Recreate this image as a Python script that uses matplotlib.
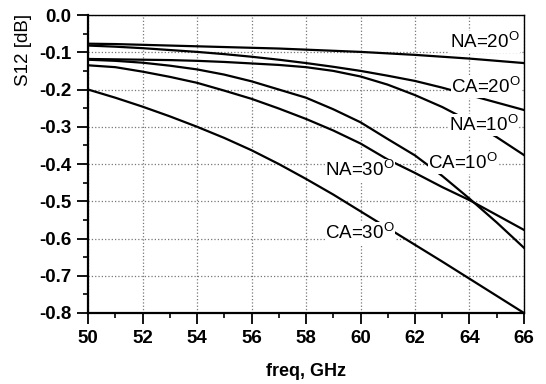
import matplotlib
matplotlib.use("Agg")
import matplotlib.pyplot as plt
from matplotlib.ticker import MultipleLocator, FormatStrFormatter

# Datos (freq en GHz, S12 en dB)
freq = [50, 51, 52, 53, 54, 55, 56, 57, 58, 59, 60, 61, 62, 63, 64, 65, 66]

na_20 = [-0.077, -0.078, -0.080, -0.082, -0.084, -0.086, -0.088, -0.090, -0.093,
         -0.096, -0.099, -0.103, -0.107, -0.112, -0.117, -0.123, -0.129]
ca_20 = [-0.082, -0.085, -0.089, -0.094, -0.099, -0.105, -0.112, -0.120, -0.129,
         -0.139, -0.150, -0.163, -0.177, -0.195, -0.215, -0.235, -0.255]
na_10 = [-0.118, -0.119, -0.120, -0.121, -0.123, -0.126, -0.130, -0.134, -0.140,
         -0.150, -0.165, -0.187, -0.215, -0.247, -0.285, -0.328, -0.376]
ca_10 = [-0.120, -0.123, -0.128, -0.136, -0.146, -0.160, -0.178, -0.200, -0.222,
         -0.253, -0.288, -0.333, -0.377, -0.432, -0.493, -0.557, -0.625]
na_30 = [-0.135, -0.140, -0.152, -0.166, -0.182, -0.203, -0.225, -0.251, -0.279,
         -0.310, -0.345, -0.388, -0.424, -0.462, -0.497, -0.537, -0.577]
ca_30 = [-0.200, -0.222, -0.246, -0.272, -0.300, -0.330, -0.363, -0.400, -0.440,
         -0.482, -0.527, -0.572, -0.617, -0.662, -0.708, -0.754, -0.800]

# Etiquetas de cada curva: (texto, x, y)
etiquetas = [
    ("NA=20", 64.55, -0.072),
    ("CA=20", 64.6, -0.193),
    ("NA=10", 64.53, -0.295),
    ("CA=10", 63.76, -0.397),
    ("NA=30", 59.98, -0.416),
    ("CA=30", 59.98, -0.585),
]


def generar_grafico():
    plt.rcParams['font.family'] = ['Liberation Sans', 'DejaVu Sans']
    plt.rcParams['mathtext.fontset'] = 'custom'
    plt.rcParams['mathtext.rm'] = 'Liberation Sans'
    plt.rcParams['axes.unicode_minus'] = False

    fig = plt.figure(figsize=(5.46, 3.84), dpi=100)
    ax = fig.add_axes([0.1612, 0.1849, 0.7985, 0.776])

    for serie in [na_20, ca_20, na_10, ca_10, na_30, ca_30]:
        ax.plot(freq, serie, color='black', lw=1.6, zorder=2)

    for texto, x, y in etiquetas:
        ax.text(x, y, texto + r'$^{\mathrm{O}}$', fontsize=13.5, ha='center', va='center',
                zorder=3, bbox=dict(facecolor='white', edgecolor='none', pad=0.3))

    ax.set_xlim(50, 66)
    ax.set_ylim(-0.8, 0.0)
    ax.xaxis.set_major_locator(MultipleLocator(2))
    ax.xaxis.set_minor_locator(MultipleLocator(1))
    ax.yaxis.set_major_locator(MultipleLocator(0.1))
    ax.yaxis.set_minor_locator(MultipleLocator(0.05))
    ax.yaxis.set_major_formatter(FormatStrFormatter('%.1f'))

    ax.tick_params(which='major', direction='out', length=8, width=1.3, labelsize=13.5, pad=4)
    ax.tick_params(which='minor', direction='out', length=3.5, width=1.2)
    for lab in ax.get_xticklabels() + ax.get_yticklabels():
        lab.set_fontweight('bold')

    ax.grid(True, which='major', color='#777777', ls=':', lw=0.9, zorder=0)

    ax.spines['left'].set_linewidth(1.6)
    ax.spines['bottom'].set_linewidth(1.6)
    ax.spines['top'].set_linewidth(1.0)
    ax.spines['right'].set_linewidth(1.0)

    ax.set_xlabel('freq, GHz', fontsize=13, fontweight='bold', labelpad=12)
    ax.set_ylabel('S12 [dB]', fontsize=13.5)
    # la etiqueta del eje y va arriba, como en el original
    ax.yaxis.set_label_coords(-0.128, 0.883)

    fig.savefig("out.png", dpi=100)
    plt.close(fig)


if __name__ == "__main__":
    generar_grafico()
